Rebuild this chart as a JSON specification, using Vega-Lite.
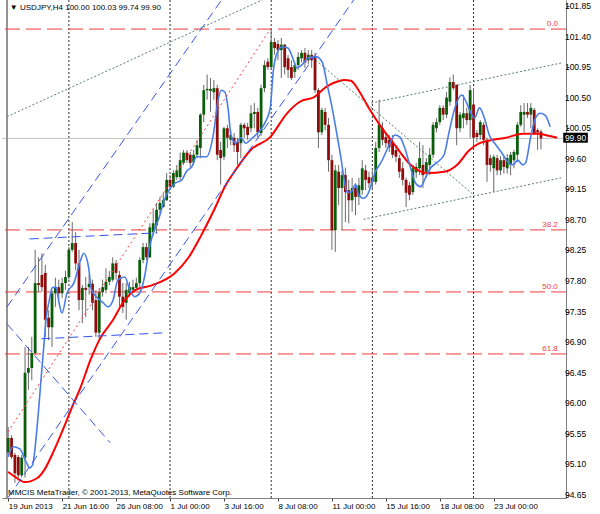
{
"$schema": "https://vega.github.io/schema/vega-lite/v6.json",
"width": 564, "height": 498,
"autosize": {"type": "none"},
"padding": {"left": 2, "top": 0, "right": 34, "bottom": 16},
"background": "white",
"config": {"view": {"stroke": null}, "font": "Liberation Sans",
  "axis": {"labelOverlap": false, "labelBound": false, "labelFlush": false, "grid": false, "title": null, "labelFont": "Liberation Sans", "labelColor": "#000000", "tickSize": 3, "tickColor": "#404040", "domainColor": "#808080"},
  "axisX": {"labelAlign": "left", "labelBaseline": "top", "labelPadding": 1, "labelFontSize": 8}},
"datasets": {
"seps": [{"i":18},{"i":48},{"i":78},{"i":108},{"i":138}],
"cur": [{"p":99.90}],
"yticks": [{"v":94.65},{"v":95.10},{"v":95.55},{"v":96.00},{"v":96.45},{"v":96.90},{"v":97.35},{"v":97.80},{"v":98.25},{"v":98.70},{"v":99.15},{"v":99.60},{"v":100.05},{"v":100.50},{"v":100.95},{"v":101.40},{"v":101.85}],
"fib": [{"level":"0.0","p":101.51},{"level":"38.2","p":98.553},{"level":"50.0","p":97.64},{"level":"61.8","p":96.727}],
"notes": [{"label":"▼ USDJPY,H4  100.00 100.03 99.74 99.90"}],
"copy": [{"label":"MMCIS MetaTrader, © 2001-2013, MetaQuotes Software Corp."}],
"candles": [
{"i":0,"o":95.28,"h":95.65,"l":95.24,"c":95.49},
{"i":1,"o":95.49,"h":95.53,"l":95.18,"c":95.21},
{"i":2,"o":95.24,"h":95.27,"l":94.83,"c":94.97},
{"i":3,"o":95.21,"h":95.24,"l":94.90,"c":94.94},
{"i":4,"o":94.94,"h":95.24,"l":94.91,"c":95.20},
{"i":5,"o":95.20,"h":96.83,"l":94.91,"c":96.45},
{"i":6,"o":96.45,"h":96.83,"l":96.20,"c":96.52},
{"i":7,"o":96.52,"h":96.98,"l":96.34,"c":96.74},
{"i":8,"o":96.74,"h":98.26,"l":96.71,"c":97.77},
{"i":9,"o":97.77,"h":98.15,"l":97.64,"c":97.74},
{"i":10,"o":97.89,"h":98.21,"l":97.64,"c":97.71},
{"i":11,"o":97.92,"h":98.04,"l":96.98,"c":97.23},
{"i":12,"o":97.26,"h":97.37,"l":96.93,"c":97.12},
{"i":13,"o":97.12,"h":97.67,"l":96.83,"c":97.62},
{"i":14,"o":97.62,"h":97.85,"l":97.42,"c":97.71},
{"i":15,"o":97.71,"h":97.82,"l":97.52,"c":97.62},
{"i":16,"o":97.62,"h":97.85,"l":97.55,"c":97.77},
{"i":17,"o":97.77,"h":97.95,"l":97.67,"c":97.86},
{"i":18,"o":97.86,"h":98.30,"l":97.82,"c":98.26},
{"i":19,"o":98.26,"h":98.67,"l":98.23,"c":98.36},
{"i":20,"o":98.36,"h":98.52,"l":97.96,"c":98.06},
{"i":21,"o":98.06,"h":98.26,"l":97.37,"c":97.52},
{"i":22,"o":97.52,"h":97.74,"l":97.18,"c":97.70},
{"i":23,"o":97.70,"h":97.86,"l":97.27,"c":97.67},
{"i":24,"o":97.71,"h":97.89,"l":97.60,"c":97.76},
{"i":25,"o":97.76,"h":97.82,"l":97.37,"c":97.48},
{"i":26,"o":97.52,"h":97.67,"l":96.98,"c":97.04},
{"i":27,"o":97.04,"h":97.70,"l":96.93,"c":97.64},
{"i":28,"o":97.64,"h":97.82,"l":97.57,"c":97.71},
{"i":29,"o":97.67,"h":97.99,"l":97.62,"c":97.79},
{"i":30,"o":97.79,"h":97.95,"l":97.74,"c":97.86},
{"i":31,"o":97.82,"h":98.15,"l":97.79,"c":98.06},
{"i":32,"o":98.06,"h":98.11,"l":97.82,"c":97.92},
{"i":33,"o":97.89,"h":97.95,"l":97.42,"c":97.57},
{"i":34,"o":97.57,"h":97.77,"l":97.33,"c":97.42},
{"i":35,"o":97.48,"h":97.77,"l":97.23,"c":97.67},
{"i":36,"o":97.62,"h":97.79,"l":97.57,"c":97.71},
{"i":37,"o":97.67,"h":97.82,"l":97.62,"c":97.71},
{"i":38,"o":97.70,"h":97.85,"l":97.67,"c":97.77},
{"i":39,"o":97.77,"h":98.15,"l":97.71,"c":98.11},
{"i":40,"o":98.11,"h":98.36,"l":98.06,"c":98.30},
{"i":41,"o":98.30,"h":98.36,"l":98.11,"c":98.15},
{"i":42,"o":98.15,"h":98.65,"l":98.14,"c":98.59},
{"i":43,"o":98.52,"h":98.85,"l":98.47,"c":98.65},
{"i":44,"o":98.62,"h":98.95,"l":98.50,"c":98.85},
{"i":45,"o":98.85,"h":99.04,"l":98.80,"c":98.95},
{"i":46,"o":98.89,"h":99.10,"l":98.88,"c":98.99},
{"i":47,"o":98.99,"h":99.39,"l":98.98,"c":99.29},
{"i":48,"o":99.29,"h":99.36,"l":99.14,"c":99.19},
{"i":49,"o":99.19,"h":99.43,"l":99.17,"c":99.39},
{"i":50,"o":99.33,"h":99.51,"l":99.29,"c":99.43},
{"i":51,"o":99.33,"h":99.69,"l":99.29,"c":99.58},
{"i":52,"o":99.54,"h":99.73,"l":99.51,"c":99.69},
{"i":53,"o":99.69,"h":99.73,"l":99.54,"c":99.58},
{"i":54,"o":99.66,"h":99.70,"l":99.47,"c":99.54},
{"i":55,"o":99.55,"h":99.73,"l":99.51,"c":99.66},
{"i":56,"o":99.66,"h":99.88,"l":99.61,"c":99.80},
{"i":57,"o":99.76,"h":100.27,"l":99.61,"c":100.25},
{"i":58,"o":100.25,"h":100.69,"l":100.14,"c":100.61},
{"i":59,"o":100.61,"h":100.84,"l":100.47,"c":100.63},
{"i":60,"o":100.60,"h":100.79,"l":100.29,"c":100.63},
{"i":61,"o":100.58,"h":100.76,"l":100.47,"c":100.64},
{"i":62,"o":100.64,"h":100.69,"l":99.58,"c":99.66},
{"i":63,"o":99.73,"h":99.85,"l":99.22,"c":99.61},
{"i":64,"o":99.63,"h":100.07,"l":99.58,"c":100.05},
{"i":65,"o":100.05,"h":100.10,"l":99.76,"c":99.91},
{"i":66,"o":99.88,"h":100.02,"l":99.80,"c":99.95},
{"i":67,"o":99.91,"h":99.98,"l":99.70,"c":99.80},
{"i":68,"o":99.85,"h":99.91,"l":99.51,"c":99.70},
{"i":69,"o":99.83,"h":100.13,"l":99.61,"c":100.10},
{"i":70,"o":100.10,"h":100.13,"l":99.91,"c":100.05},
{"i":71,"o":100.07,"h":100.13,"l":99.88,"c":99.95},
{"i":72,"o":100.05,"h":100.39,"l":99.99,"c":100.27},
{"i":73,"o":100.26,"h":100.42,"l":100.05,"c":100.29},
{"i":74,"o":100.29,"h":100.35,"l":99.91,"c":99.99},
{"i":75,"o":99.98,"h":100.69,"l":99.94,"c":100.64},
{"i":76,"o":100.64,"h":101.05,"l":100.58,"c":100.98},
{"i":77,"o":101.03,"h":101.08,"l":100.91,"c":100.95},
{"i":78,"o":100.95,"h":101.51,"l":100.92,"c":101.32},
{"i":79,"o":101.32,"h":101.38,"l":101.13,"c":101.23},
{"i":80,"o":101.29,"h":101.35,"l":101.05,"c":101.20},
{"i":81,"o":101.20,"h":101.38,"l":100.79,"c":101.28},
{"i":82,"o":101.28,"h":101.29,"l":100.84,"c":100.95},
{"i":83,"o":101.08,"h":101.13,"l":100.79,"c":100.91},
{"i":84,"o":100.95,"h":101.05,"l":100.76,"c":100.79},
{"i":85,"o":100.88,"h":101.02,"l":100.79,"c":100.98},
{"i":86,"o":100.98,"h":101.17,"l":100.91,"c":101.10},
{"i":87,"o":101.08,"h":101.20,"l":101.02,"c":101.16},
{"i":88,"o":101.16,"h":101.23,"l":100.94,"c":101.02},
{"i":89,"o":101.05,"h":101.20,"l":100.99,"c":101.13},
{"i":90,"o":101.13,"h":101.20,"l":100.94,"c":101.05},
{"i":91,"o":101.11,"h":101.16,"l":100.57,"c":100.61},
{"i":92,"o":100.61,"h":100.64,"l":99.76,"c":99.99},
{"i":93,"o":99.99,"h":100.35,"l":99.95,"c":100.32},
{"i":94,"o":100.29,"h":100.35,"l":100.02,"c":100.10},
{"i":95,"o":100.10,"h":100.20,"l":99.41,"c":99.58},
{"i":96,"o":99.58,"h":99.66,"l":98.26,"c":98.55},
{"i":97,"o":98.55,"h":99.51,"l":98.23,"c":99.43},
{"i":98,"o":99.41,"h":99.51,"l":98.92,"c":99.17},
{"i":99,"o":99.17,"h":99.43,"l":98.55,"c":99.36},
{"i":100,"o":99.36,"h":99.47,"l":98.67,"c":99.11},
{"i":101,"o":99.14,"h":99.29,"l":98.65,"c":98.99},
{"i":102,"o":98.99,"h":99.32,"l":98.82,"c":99.17},
{"i":103,"o":99.17,"h":99.24,"l":98.77,"c":99.04},
{"i":104,"o":99.04,"h":99.32,"l":98.92,"c":99.21},
{"i":105,"o":99.14,"h":99.58,"l":99.07,"c":99.46},
{"i":106,"o":99.43,"h":99.51,"l":99.14,"c":99.29},
{"i":107,"o":99.33,"h":99.41,"l":99.17,"c":99.24},
{"i":108,"o":99.26,"h":99.43,"l":99.14,"c":99.32},
{"i":109,"o":99.26,"h":99.85,"l":99.22,"c":99.76},
{"i":110,"o":99.76,"h":100.47,"l":99.70,"c":100.10},
{"i":111,"o":100.05,"h":100.14,"l":99.80,"c":99.88},
{"i":112,"o":99.92,"h":99.98,"l":99.76,"c":99.83},
{"i":113,"o":99.88,"h":99.95,"l":99.70,"c":99.77},
{"i":114,"o":99.85,"h":99.95,"l":99.61,"c":99.66},
{"i":115,"o":99.73,"h":99.80,"l":99.55,"c":99.63},
{"i":116,"o":99.61,"h":99.66,"l":99.32,"c":99.41},
{"i":117,"o":99.46,"h":99.55,"l":99.21,"c":99.29},
{"i":118,"o":99.29,"h":99.32,"l":98.89,"c":99.10},
{"i":119,"o":99.21,"h":99.26,"l":98.99,"c":99.07},
{"i":120,"o":99.11,"h":99.51,"l":99.07,"c":99.46},
{"i":121,"o":99.40,"h":99.54,"l":99.32,"c":99.48},
{"i":122,"o":99.46,"h":99.85,"l":99.36,"c":99.61},
{"i":123,"o":99.51,"h":99.80,"l":99.17,"c":99.36},
{"i":124,"o":99.41,"h":99.61,"l":99.32,"c":99.55},
{"i":125,"o":99.51,"h":99.76,"l":99.36,"c":99.66},
{"i":126,"o":99.66,"h":100.14,"l":99.61,"c":100.10},
{"i":127,"o":100.05,"h":100.20,"l":99.99,"c":100.14},
{"i":128,"o":100.14,"h":100.39,"l":100.10,"c":100.35},
{"i":129,"o":100.35,"h":100.39,"l":100.17,"c":100.25},
{"i":130,"o":100.25,"h":100.58,"l":100.20,"c":100.50},
{"i":131,"o":100.44,"h":100.80,"l":100.38,"c":100.73},
{"i":132,"o":100.73,"h":100.84,"l":100.61,"c":100.64},
{"i":133,"o":100.69,"h":100.69,"l":99.80,"c":100.05},
{"i":134,"o":100.05,"h":100.29,"l":99.99,"c":100.25},
{"i":135,"o":100.20,"h":100.54,"l":100.05,"c":100.27},
{"i":136,"o":100.27,"h":100.35,"l":100.10,"c":100.17},
{"i":137,"o":100.17,"h":100.69,"l":99.91,"c":100.61},
{"i":138,"o":100.40,"h":100.64,"l":99.76,"c":99.91},
{"i":139,"o":99.98,"h":100.02,"l":99.85,"c":99.92},
{"i":140,"o":99.95,"h":100.17,"l":99.88,"c":100.14},
{"i":141,"o":100.10,"h":100.14,"l":99.80,"c":99.88},
{"i":142,"o":99.88,"h":99.91,"l":99.26,"c":99.51},
{"i":143,"o":99.61,"h":99.66,"l":99.41,"c":99.51},
{"i":144,"o":99.46,"h":99.66,"l":99.11,"c":99.63},
{"i":145,"o":99.61,"h":99.66,"l":99.36,"c":99.43},
{"i":146,"o":99.43,"h":99.64,"l":99.36,"c":99.58},
{"i":147,"o":99.58,"h":99.64,"l":99.38,"c":99.48},
{"i":148,"o":99.46,"h":99.67,"l":99.38,"c":99.61},
{"i":149,"o":99.51,"h":99.70,"l":99.36,"c":99.66},
{"i":150,"o":99.58,"h":99.73,"l":99.46,"c":99.70},
{"i":151,"o":99.66,"h":100.14,"l":99.55,"c":100.10},
{"i":152,"o":100.10,"h":100.39,"l":100.07,"c":100.29},
{"i":153,"o":100.25,"h":100.42,"l":99.99,"c":100.29},
{"i":154,"o":100.29,"h":100.42,"l":100.20,"c":100.25},
{"i":155,"o":100.25,"h":100.42,"l":100.05,"c":100.35},
{"i":156,"o":100.32,"h":100.35,"l":99.95,"c":99.98},
{"i":157,"o":100.02,"h":100.05,"l":99.73,"c":99.99},
{"i":158,"o":100.00,"h":100.03,"l":99.74,"c":99.90}
],
"redma": [
{"i":0,"p":94.99},{"i":1.98,"p":94.92},{"i":4.89,"p":94.84},{"i":8.68,"p":94.90},{"i":10.72,"p":95.02},{"i":13.63,"p":95.31},{"i":16.55,"p":95.65},{"i":18.58,"p":95.90},{"i":21.5,"p":96.24},{"i":24.41,"p":96.64},{"i":27.32,"p":96.96},{"i":31.11,"p":97.23},{"i":34.02,"p":97.48},{"i":37.81,"p":97.67},{"i":42.76,"p":97.74},{"i":49.46,"p":97.92},{"i":53.54,"p":98.15},{"i":57.32,"p":98.48},{"i":60.8,"p":98.82},{"i":64.6,"p":99.22},{"i":67.5,"p":99.44},{"i":71.9,"p":99.73},{"i":77.7,"p":99.92},{"i":82.7,"p":100.27},{"i":86.5,"p":100.44},{"i":90.8,"p":100.51},{"i":94.3,"p":100.66},{"i":97.2,"p":100.73},{"i":99.6,"p":100.76},{"i":101.6,"p":100.75},{"i":103.9,"p":100.61},{"i":106.8,"p":100.36},{"i":110.6,"p":100.07},{"i":114.7,"p":99.80},{"i":119.4,"p":99.51},{"i":124.3,"p":99.39},{"i":129.3,"p":99.41},{"i":133.1,"p":99.51},{"i":136.8,"p":99.73},{"i":139.8,"p":99.83},{"i":143.8,"p":99.88},{"i":147.6,"p":99.91},{"i":152.6,"p":99.97},{"i":157.2,"p":99.97},{"i":160.2,"p":99.94},{"i":162.8,"p":99.91}
],
"bluema": [
{"i":0,"p":95.21},{"i":1.4,"p":95.36},{"i":3.44,"p":95.33},{"i":5.48,"p":95.12},{"i":6.35,"p":95.05},{"i":7.22,"p":95.09},{"i":8.68,"p":95.71},{"i":9.85,"p":96.42},{"i":10.72,"p":96.93},{"i":11.3,"p":97.26},{"i":12.2,"p":97.52},{"i":13.05,"p":97.70},{"i":14.21,"p":97.71},{"i":15.09,"p":97.48},{"i":15.96,"p":97.33},{"i":17.42,"p":97.62},{"i":19.46,"p":97.77},{"i":21.5,"p":98.11},{"i":22.37,"p":98.21},{"i":23.83,"p":98.01},{"i":24.7,"p":97.67},{"i":26.16,"p":97.57},{"i":28.2,"p":97.48},{"i":29.65,"p":97.42},{"i":31.11,"p":97.52},{"i":32.57,"p":97.82},{"i":34.61,"p":97.86},{"i":36.06,"p":97.67},{"i":37.52,"p":97.57},{"i":38.97,"p":97.62},{"i":40.43,"p":97.86},{"i":41.89,"p":98.30},{"i":43.34,"p":98.55},{"i":44.8,"p":98.74},{"i":46.26,"p":98.99},{"i":47.72,"p":99.14},{"i":49.46,"p":99.24},{"i":51.5,"p":99.29},{"i":52.96,"p":99.42},{"i":54.41,"p":99.48},{"i":55.87,"p":99.63},{"i":58.78,"p":99.63},{"i":60.82,"p":99.95},{"i":62.27,"p":100.47},{"i":63.15,"p":100.61},{"i":64.31,"p":100.58},{"i":65.19,"p":100.35},{"i":66.06,"p":99.95},{"i":67.52,"p":99.83},{"i":68.98,"p":99.91},{"i":70.43,"p":99.83},{"i":72.47,"p":99.91},{"i":74.22,"p":99.99},{"i":76.26,"p":100.14},{"i":77.72,"p":100.35},{"i":78.59,"p":100.88},{"i":79.76,"p":101.16},{"i":81.21,"p":101.25},{"i":82.96,"p":101.23},{"i":84.42,"p":101.08},{"i":85.58,"p":100.94},{"i":87.04,"p":100.98},{"i":88.79,"p":101.08},{"i":91.41,"p":101.10},{"i":93.16,"p":101.02},{"i":94.61,"p":100.69},{"i":96.07,"p":100.35},{"i":97.52,"p":99.95},{"i":98.69,"p":99.61},{"i":99.56,"p":99.32},{"i":100.44,"p":99.11},{"i":101.6,"p":99.11},{"i":103.06,"p":99.22},{"i":103.93,"p":99.07},{"i":105.39,"p":99.02},{"i":106.84,"p":99.10},{"i":108.88,"p":99.41},{"i":110.63,"p":99.55},{"i":112.67,"p":99.77},{"i":114.71,"p":99.95},{"i":116.17,"p":99.92},{"i":117.62,"p":99.76},{"i":119.37,"p":99.46},{"i":120.83,"p":99.24},{"i":122.29,"p":99.19},{"i":123.74,"p":99.32},{"i":125.2,"p":99.46},{"i":127.24,"p":99.55},{"i":129.27,"p":99.66},{"i":130.73,"p":99.99},{"i":132.48,"p":100.35},{"i":134.52,"p":100.54},{"i":135.97,"p":100.42},{"i":137.43,"p":100.25},{"i":138.3,"p":100.20},{"i":139.76,"p":100.35},{"i":141.22,"p":100.20},{"i":142.67,"p":99.95},{"i":144.71,"p":99.80},{"i":146.75,"p":99.66},{"i":148.21,"p":99.55},{"i":149.67,"p":99.51},{"i":151.12,"p":99.58},{"i":152.58,"p":99.51},{"i":153.45,"p":99.54},{"i":154.91,"p":99.91},{"i":156.37,"p":100.20},{"i":157.82,"p":100.27},{"i":159.28,"p":100.24},{"i":160.73,"p":100.07}
],
"bluelines": [
{"i":-0.35,"p":97.42,"i2":63.3,"p2":101.94},
{"i":-0.35,"p":97.17,"i2":30.24,"p2":95.42},
{"i":-0.06,"p":94.61,"i2":102.48,"p2":101.94},
{"i":6.35,"p":98.42,"i2":44.2,"p2":98.51},
{"i":9.85,"p":96.95,"i2":47.13,"p2":97.04}
],
"graylines": [
{"i":-0.35,"p":100.22,"i2":75.4,"p2":101.94},
{"i":89.4,"p":101.13,"i2":138.0,"p2":99.07},
{"i":107.7,"p":100.42,"i2":163.94,"p2":101.01},
{"i":105.4,"p":98.71,"i2":163.94,"p2":99.32}
],
"fibdiag": [
{"i":-0.06,"p":95.58,"i2":77.7,"p2":101.51}
]
},
"layer": [
{"data": {"name": "seps"},
 "mark": {"type": "rule", "strokeDash": [2, 2], "color": "#303030", "strokeWidth": 1},
 "encoding": {"x": {"field": "i", "type": "quantitative", "scale": {"domain": [-0.35, 163.94], "nice": false, "zero": false},
   "axis": {"orient": "bottom", "values": [0,16,32,48,64,80,96,112,128,144],
     "labelExpr": "['19 Jun 2013','21 Jun 16:00','26 Jun 08:00','1 Jul 00:00','3 Jul 16:00','8 Jul 08:00','11 Jul 00:00','15 Jul 16:00','18 Jul 08:00','23 Jul 00:00'][round(datum.value/16)]",
     "labelAlign": "left", "labelBaseline": "top", "labelPadding": 1, "labelFontSize": 8, "labelOverlap": false}}}},
{"data": {"name": "cur"},
 "mark": {"type": "rule", "color": "#c4c4c4", "strokeWidth": 1},
 "encoding": {"y": {"field": "p", "type": "quantitative", "scale": {"domain": [94.606, 101.938], "nice": false, "zero": false},
   "axis": {"orient": "right", "values": [94.65,95.1,95.55,96,96.45,96.9,97.35,97.8,98.25,98.7,99.15,99.6,100.05,100.5,100.95,101.4,101.85], "labels": false}}}},
{"data": {"name": "yticks"},
 "mark": {"type": "text", "align": "left", "baseline": "middle", "fontSize": 8.5, "color": "#000000", "font": "Liberation Sans"},
 "encoding": {"x": {"datum": 165.1, "type": "quantitative"}, "y": {"field": "v", "type": "quantitative"}, "text": {"field": "v", "format": ".2f"}}},
{"data": {"name": "seps"},
 "mark": {"type": "rule", "color": "#909090", "strokeWidth": 1},
 "encoding": {"x": {"datum": -0.35, "type": "quantitative"}}},
{"data": {"name": "fib"},
 "mark": {"type": "rule", "strokeDash": [15, 6], "color": "#f23a3a", "strokeWidth": 1},
 "encoding": {"y": {"field": "p", "type": "quantitative"}}},
{"data": {"name": "fib"},
 "mark": {"type": "text", "align": "right", "baseline": "bottom", "dy": -1, "fontSize": 8, "color": "#f23a3a", "font": "Liberation Sans"},
 "encoding": {"x": {"datum": 163.0, "type": "quantitative"}, "y": {"field": "p", "type": "quantitative"}, "text": {"field": "level"}}},
{"data": {"name": "candles"},
 "mark": {"type": "rule", "color": "#6a6a6a", "strokeWidth": 1},
 "encoding": {"x": {"field": "i", "type": "quantitative"}, "y": {"field": "l", "type": "quantitative"}, "y2": {"field": "h"}}},
{"data": {"name": "candles"},
 "mark": {"type": "bar", "size": 2.8},
 "encoding": {"x": {"field": "i", "type": "quantitative"}, "y": {"field": "o", "type": "quantitative"}, "y2": {"field": "c"},
   "color": {"condition": {"test": "datum.c >= datum.o", "value": "#0a5e0a"}, "value": "#8e0c0c"}}},
{"data": {"name": "redma"},
 "mark": {"type": "line", "color": "#ff0000", "strokeWidth": 2, "interpolate": "monotone"},
 "encoding": {"x": {"field": "i", "type": "quantitative"}, "y": {"field": "p", "type": "quantitative"}}},
{"data": {"name": "bluema"},
 "mark": {"type": "line", "color": "#4a7ee6", "strokeWidth": 1.6, "interpolate": "monotone"},
 "encoding": {"x": {"field": "i", "type": "quantitative"}, "y": {"field": "p", "type": "quantitative"}}},
{"data": {"name": "bluelines"},
 "mark": {"type": "rule", "color": "#3355ee", "strokeDash": [9, 5], "strokeWidth": 1, "clip": true},
 "encoding": {"x": {"field": "i", "type": "quantitative"}, "y": {"field": "p", "type": "quantitative"}, "x2": {"field": "i2"}, "y2": {"field": "p2"}}},
{"data": {"name": "graylines"},
 "mark": {"type": "rule", "color": "#5b7b72", "strokeDash": [2, 2], "strokeWidth": 1, "clip": true},
 "encoding": {"x": {"field": "i", "type": "quantitative"}, "y": {"field": "p", "type": "quantitative"}, "x2": {"field": "i2"}, "y2": {"field": "p2"}}},
{"data": {"name": "fibdiag"},
 "mark": {"type": "rule", "color": "#ff4040", "strokeDash": [2, 3], "strokeWidth": 1, "clip": true},
 "encoding": {"x": {"field": "i", "type": "quantitative"}, "y": {"field": "p", "type": "quantitative"}, "x2": {"field": "i2"}, "y2": {"field": "p2"}}},
{"data": {"name": "notes"},
 "mark": {"type": "text", "align": "left", "baseline": "middle", "fontSize": 8, "color": "#000000", "font": "Liberation Sans"},
 "encoding": {"x": {"datum": 0.5, "type": "quantitative"}, "y": {"datum": 101.82, "type": "quantitative"}, "text": {"field": "label"}}},
{"data": {"name": "copy"},
 "mark": {"type": "text", "align": "left", "baseline": "middle", "fontSize": 8, "color": "#000000", "font": "Liberation Sans"},
 "encoding": {"x": {"datum": -0.06, "type": "quantitative"}, "y": {"datum": 94.68, "type": "quantitative"}, "text": {"field": "label"}}},
{"data": {"name": "cur"},
 "mark": {"type": "rect", "color": "#000000"},
 "encoding": {"x": {"datum": 164.6, "type": "quantitative"}, "x2": {"datum": 171.9}, "y": {"datum": 99.984, "type": "quantitative"}, "y2": {"datum": 99.837}}},
{"data": {"name": "cur"},
 "mark": {"type": "text", "align": "center", "baseline": "middle", "fontSize": 8.5, "color": "#ffffff", "font": "Liberation Sans"},
 "encoding": {"x": {"datum": 168.25, "type": "quantitative"}, "y": {"field": "p", "type": "quantitative"}, "text": {"field": "p", "format": ".2f"}}}
]
}
